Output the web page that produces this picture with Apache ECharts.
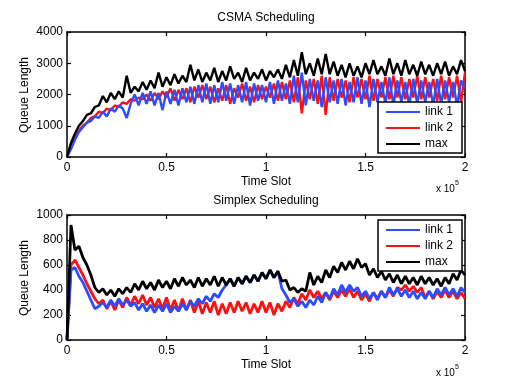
<!DOCTYPE html>
<html>
<head>
<meta charset="utf-8">
<script src="https://cdn.jsdelivr.net/npm/echarts@6/dist/echarts.min.js"></script>
<style>
html,body{margin:0;padding:0;background:#fff;}
#chart{width:512px;height:385px;}
</style>
</head>
<body>
<div id="chart"></div>
<script>
// ---- data ----
var timeStep = 2000; // time slots between samples
var xTickLabels = ['0', '0.5', '1', '1.5', '2'];
var seriesNames = ['link 1', 'link 2', 'max'];

// CSMA Scheduling (top)
var csmaLink1 = [0,250,550,800,950,1100,1150,1300,1250,1450,1300,1550,1450,1650,1550,1250,
  1700,2000,1650,2050,1700,2100,1650,2050,1500,2100,1700,2150,1650,2200,1750,2250,1700,2300,1750,2350,
  1700,2300,1750,2400,1800,2350,1700,2300,1750,2400,1650,2350,1800,2300,1750,2400,1700,2450,1800,2350,
  1700,2600,1750,2700,1650,2500,1800,2450,1600,2550,1750,2450,1700,2500,1650,2400,1750,2550,1700,2450,
  1600,2500,1750,2400,1700,2550,1650,2450,1750,2400,1650,2500,1700,2450,1750,2400,1650,2500,1700,2450,
  1750,2400,1650,2450,2200];
var csmaLink2 = [0,350,650,850,1000,1100,1250,1300,1450,1400,1550,1500,1650,1600,1750,1700,
  1850,1800,1900,1850,2000,1800,2050,1850,2100,1900,2200,1800,2150,1850,2200,1750,2250,1900,2300,1850,
  2250,1750,2200,1800,2300,1700,2200,1900,2350,1800,2250,1750,2300,1850,2250,1900,2350,1800,2400,1850,
  2450,1750,2550,1400,2450,1850,2500,1700,2600,1350,2550,1800,2500,1900,2450,1750,2550,1900,2500,1850,
  2600,1800,2500,1900,2550,1850,2600,1900,2550,1850,2500,1900,2600,1850,2550,1900,2500,1800,2600,1850,
  2550,1900,2600,1750,2700];
var csmaMax = [0,450,750,1000,1150,1350,1400,1600,1650,1950,1750,2050,1850,2100,1900,2600,
  2050,2250,2100,2400,2150,2450,2200,2700,2250,2550,2300,2650,2350,2600,2400,2950,2450,2800,2400,2700,
  2450,2850,2400,2750,2450,2900,2500,2700,2400,2850,2450,2700,2500,2800,2450,2750,2550,2800,2500,2950,
  2550,3100,2600,3350,2650,3000,2600,3150,2650,3300,2650,3050,2600,2950,2550,3000,2600,2900,2550,3000,
  2650,3100,2650,2900,2600,3150,2650,3000,2600,3100,2650,2950,2600,3050,2650,2950,2600,3000,2650,3050,
  2600,2900,2650,3100,2750];

// Simplex Scheduling (bottom)
var simplexLink1 = [0,560,580,510,460,390,320,250,270,300,260,320,270,330,280,320,
  270,300,240,290,230,280,220,280,230,290,220,270,230,290,240,310,270,330,290,350,
  310,370,340,400,440,490,430,500,450,510,460,520,470,540,490,560,500,550,410,360,
  300,330,270,310,260,320,280,350,300,380,330,410,360,440,380,440,390,420,350,390,
  330,380,320,390,340,420,360,410,350,400,340,390,330,380,330,390,340,410,360,420,
  360,410,350,420,380];
var simplexLink2 = [0,600,640,580,520,450,390,330,290,320,250,310,240,320,260,340,
  280,350,290,360,280,340,260,330,250,340,240,320,230,330,240,320,220,310,210,300,
  220,310,200,290,210,300,220,310,230,300,210,290,220,310,220,300,200,290,230,310,
  260,340,290,370,320,400,340,390,330,380,320,390,340,400,350,410,340,390,320,370,
  310,380,330,390,340,400,350,420,400,440,390,430,380,420,340,390,330,390,340,400,
  340,390,330,380,330];
var simplexMax = [0,920,720,750,660,600,520,420,380,410,360,400,350,410,370,420,
  380,450,400,470,410,460,400,480,420,470,410,490,430,500,440,480,420,500,430,490,
  440,510,430,500,440,490,430,500,450,510,460,520,470,540,490,560,500,550,470,480,
  400,420,380,410,390,540,440,510,460,560,500,590,540,620,560,630,570,650,580,610,
  520,570,500,550,480,530,460,520,450,510,450,500,440,510,450,500,440,490,430,500,
  450,530,480,560,520];

function pairs(values) {
  return values.map(function (v, i) { return [i * timeStep, v]; });
}

var FONT = 'Liberation Sans';
var BLUE = '#2b4cff', RED = '#ff1010', BLACK = '#000000';

var grids = [
  {left: 67, top: 32, width: 398, height: 125},
  {left: 67, top: 215, width: 398, height: 125}
];

function xAx(gi, pos) {
  var main = pos === 'bottom';
  return {
    type: 'value', gridIndex: gi, position: pos, min: 0, max: 200000, interval: 50000,
    axisLine: {show: true, onZero: false, lineStyle: {color: '#000', width: 1.5}},
    axisTick: {show: true, inside: true, length: 4, lineStyle: {color: '#000', width: 1.2}},
    axisLabel: {show: main, margin: 5, color: '#000', fontSize: 12, fontFamily: FONT,
      formatter: function (v) { return xTickLabels[Math.round(v / 50000)]; }},
    splitLine: {show: false}
  };
}
function yAx(gi, pos, max, interval) {
  var main = pos === 'left';
  return {
    type: 'value', gridIndex: gi, position: pos, min: 0, max: max, interval: interval,
    axisLine: {show: true, onZero: false, lineStyle: {color: '#000', width: 1.5}},
    axisTick: {show: true, inside: true, length: 4, lineStyle: {color: '#000', width: 1.2}},
    axisLabel: {show: main, margin: 4, color: '#000', fontSize: 12, fontFamily: FONT,
      formatter: function (v) { return String(v); }},
    splitLine: {show: false}
  };
}

function line(name, values, color, xi, yi, w) {
  return {
    name: name, type: 'line', xAxisIndex: xi, yAxisIndex: yi, data: pairs(values),
    symbol: 'none', showSymbol: false, lineStyle: {color: color, width: w},
    itemStyle: {color: color}, animation: false, silent: true
  };
}

function legend(top) {
  return {
    data: seriesNames, orient: 'vertical', left: 378, top: top,
    icon: 'rect', itemWidth: 34, itemHeight: 2, itemGap: 2,
    padding: [3, 9, 2, 8], borderColor: '#000', borderWidth: 1.5, backgroundColor: '#fff',
    textStyle: {fontSize: 12, fontFamily: FONT, color: '#000', lineHeight: 14},
    selectedMode: false
  };
}

function txt(x, y, s, size, rot, align) {
  return {type: 'text', x: x, y: y, rotation: rot || 0, z: 100,
    style: {text: s, fontSize: size || 12, fontFamily: FONT, fill: '#000',
      textAlign: align || 'center', textVerticalAlign: 'middle'}};
}

var option = {
  backgroundColor: '#fff',
  animation: false,
  grid: grids,
  xAxis: [xAx(0, 'bottom'), xAx(0, 'top'), xAx(1, 'bottom'), xAx(1, 'top')],
  yAxis: [yAx(0, 'left', 4000, 1000), yAx(0, 'right', 4000, 1000), yAx(1, 'left', 1000, 200), yAx(1, 'right', 1000, 200)],
  legend: [legend(102), legend(220)],
  series: [
    line('link 2', csmaLink2, RED, 0, 0, 2.4),
    line('link 1', csmaLink1, BLUE, 0, 0, 2.4),
    line('max', csmaMax, BLACK, 0, 0, 2.4),
    line('link 2', simplexLink2, RED, 2, 2, 2.8),
    line('link 1', simplexLink1, BLUE, 2, 2, 2.8),
    line('max', simplexMax, BLACK, 2, 2, 2.8)
  ],
  graphic: [
    txt(266, 18, 'CSMA Scheduling'),
    txt(266, 182, 'Time Slot'),
    txt(436, 189, 'x 10', 10, 0, 'left'),
    txt(455, 183, '5', 7, 0, 'left'),
    txt(266, 201, 'Simplex Scheduling'),
    txt(266, 365, 'Time Slot'),
    txt(436, 373, 'x 10', 10, 0, 'left'),
    txt(455, 367, '5', 7, 0, 'left'),
    txt(25, 95, 'Queue Length', 12, Math.PI / 2),
    txt(25, 278, 'Queue Length', 12, Math.PI / 2)
  ]
};

var chart = echarts.init(document.getElementById('chart'), null, {renderer: 'canvas'});
chart.setOption(option);
</script>
</body>
</html>
